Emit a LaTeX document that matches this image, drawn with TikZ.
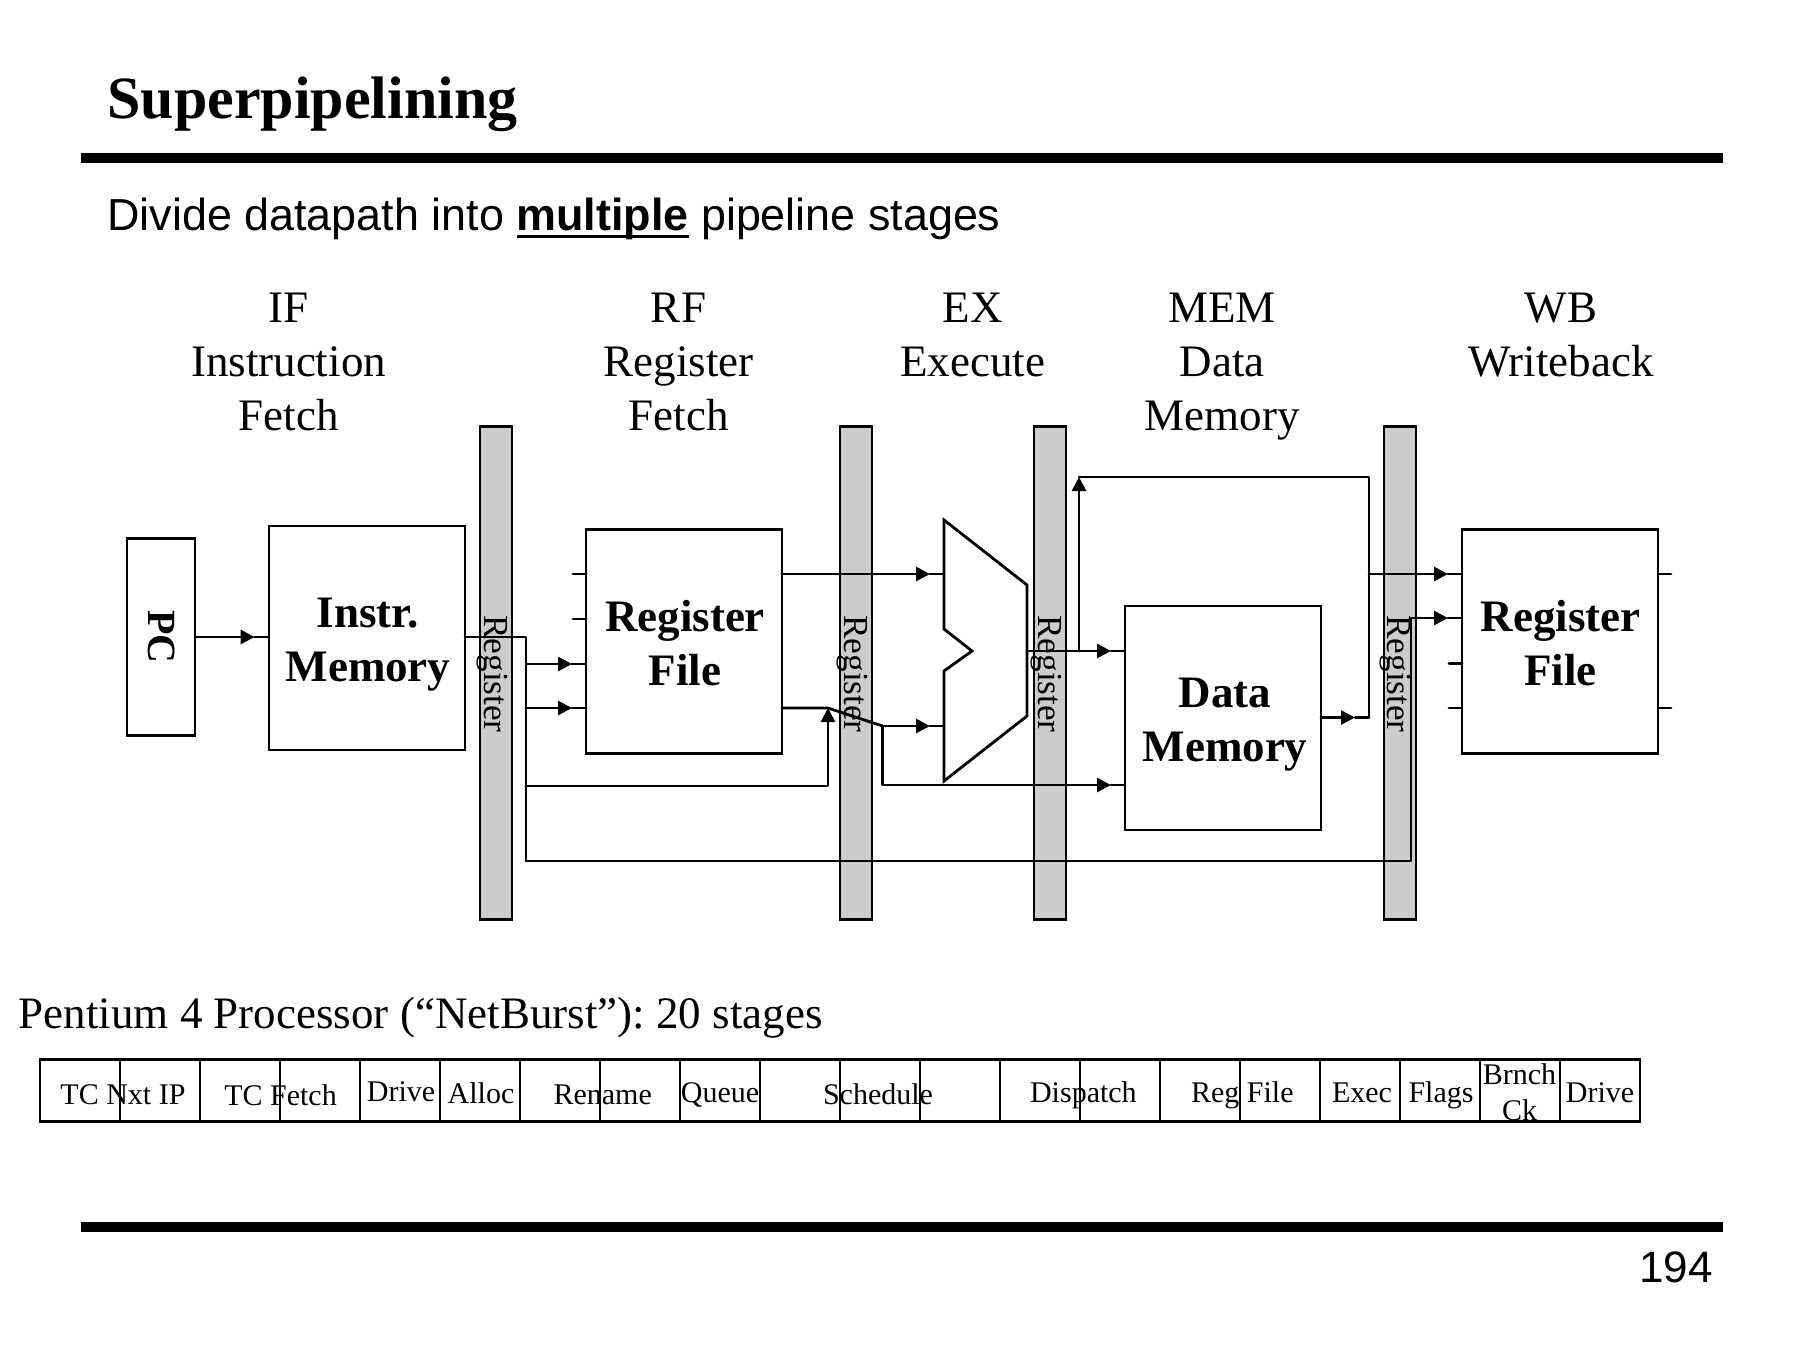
\documentclass[tikz,border=0pt]{standalone}
\usepackage{fontspec}
\setmainfont{Liberation Serif}
\newfontfamily\arialfont{Liberation Sans}
\usetikzlibrary{arrows.meta,calc}
\definecolor{barfill}{HTML}{CCCCCC}
\newcommand\heavyul[1]{\setbox0=\hbox{\bfseries #1}\copy0\kern-\wd0\rule[-4pt]{\wd0}{1.6pt}}
\frenchspacing
\tikzset{
  x=0.5pt,y=-0.5pt,
  wire/.style={line width=1.4pt,line join=round,line cap=round},
  feed/.style={wire,-{Triangle[length=7pt,width=7pt]}},
  block/.style={draw,line width=1.4pt,fill=white,inner sep=0pt,outer sep=0pt},
  bar/.style={draw,line width=1.4pt,fill=barfill,inner sep=0pt,outer sep=0pt,minimum width=16pt,minimum height=246.4pt},
  barlabel/.style={rotate=-90,anchor=base,inner sep=0pt,font=\fontsize{17.6}{18}\selectfont},
  blocklabel/.style={align=center,inner sep=0pt,font=\fontsize{22.5}{27}\selectfont\bfseries},
  stage/.style={align=center,inner sep=0pt,font=\fontsize{22.5}{27}\selectfont},
  cellbox/.style={draw,line width=1.4pt,inner sep=0pt,outer sep=0pt,minimum width=40pt,minimum height=31pt},
  celltext/.style={align=center,inner sep=0pt,font=\fontsize{15}{18}\selectfont},
  heavy/.style={line width=5pt},
}
\begin{document}
\begin{tikzpicture}
\useasboundingbox (0,0) rectangle (1800,1350);
\fill[white] (0,0) rectangle (1800,1350);
% header
\node[anchor=base west,inner sep=0pt,font=\fontsize{30}{36}\selectfont\bfseries] (title) at (107,118) {Superpipelining};
\coordinate (r1a) at (81,157.5); \coordinate (r1b) at (1723,157.5);
\draw[heavy] (r1a) -- (r1b);
\node[anchor=base west,inner sep=0pt,font=\arialfont\fontsize{22.44}{26}\selectfont] (sub) at (107,230) {Divide datapath into \heavyul{multiple} pipeline stages};
% stages
\node[stage] (s1) at (288.5,362) {IF\\Instruction\\Fetch};
\node[stage] (s2) at (678.5,362) {RF\\Register\\Fetch};
\node[stage] (s3) at (972.5,334.6) {EX\\Execute};
\node[stage] (s4) at (1222,367) {MEM\\Data\\Memory};
\node[stage] (s5) at (1561,335.4) {WB\\Writeback};
% bars
\node[bar] (b1) at (496,673.2) {};
\node[bar] (b2) at (856,673.2) {};
\node[bar] (b3) at (1050,673.2) {};
\node[bar] (b4) at (1400,673.2) {};
\node[barlabel] (b1t) at (484,674) {Register};
\node[barlabel] (b2t) at (844,674) {Register};
\node[barlabel] (b3t) at (1038,674) {Register};
\node[barlabel] (b4t) at (1387.5,674) {Register};
% blocks
\node[block,minimum width=34pt,minimum height=98.5pt] (pc) at (161,637) {};
\node[block,minimum width=98pt,minimum height=112pt] (im) at (367,638) {};
\node[block,minimum width=98pt,minimum height=112pt] (rf) at (684,641.6) {};
\node[block,minimum width=98pt,minimum height=112pt] (dm) at (1223,718) {};
\node[block,minimum width=98pt,minimum height=112pt] (wb) at (1560,641.6) {};
\node[blocklabel,rotate=-90,anchor=base,font=\fontsize{20}{24}\selectfont\bfseries] (pct) at (148,637) {PC};
\node[blocklabel] (imt) at (368,645) {Instr.\\Memory};
\node[blocklabel] (rft) at (685,643) {Register\\File};
\node[blocklabel] (dmt) at (1225,725) {Data\\Memory};
\node[blocklabel] (wbt) at (1560.5,643) {Register\\File};
% ALU
\coordinate (au1) at (944,520); \coordinate (au2) at (1027,585); \coordinate (au3) at (1027,716);
\coordinate (au4) at (944,781); \coordinate (au5) at (944,671); \coordinate (au6) at (972,651); \coordinate (au7) at (944,629);
\draw[block] (au1) -- (au2) -- (au3) -- (au4) -- (au5) -- (au6) -- (au7) -- cycle;
% junctions
\coordinate (j1) at (526,637);
\coordinate (j1a) at (526,664);
\coordinate (j1b) at (526,708);
\coordinate (j1c) at (526,786);
\coordinate (j1d) at (526,861);
\coordinate (a1) at (254.6,637);
\coordinate (a2) at (572,664);
\coordinate (a3) at (572,708);
\coordinate (j2) at (828,708);
\coordinate (j2b) at (828,786);
\coordinate (j3) at (882.5,726);
\coordinate (j3b) at (882.5,785);
\coordinate (a4) at (930,574);
\coordinate (a5) at (930,726);
\coordinate (a6) at (1111,651);
\coordinate (a7) at (1111,785);
\coordinate (j4) at (1079,651);
\coordinate (a8) at (1079,477);
\coordinate (j5) at (1369,477);
\coordinate (j6) at (1369,717.5);
\coordinate (j6b) at (1369,574);
\coordinate (a9) at (1355,717.5);
\coordinate (a10) at (1448,574);
\coordinate (a11) at (1448,618);
\coordinate (j7) at (1411,861);
\coordinate (j7b) at (1411,618);
% stubs
\coordinate (st1) at (573,574); \coordinate (st2) at (573,619);
\coordinate (st3) at (1449,663.6); \coordinate (st4) at (1449,708);
\coordinate (st5) at (1671,574); \coordinate (st6) at (1671,708);
\draw[wire] (st1) -- (st1 -| rf.west);
\draw[wire] (st2) -- (st2 -| rf.west);
\draw[wire] (st3) -- (st3 -| wb.west);
\draw[wire] (st4) -- (st4 -| wb.west);
\draw[wire] (st5) -- (st5 -| wb.east);
\draw[wire] (st6) -- (st6 -| wb.east);
% connectors
\draw[feed] (pc.east) -- (a1);
\draw[wire] (a1) -- (a1 -| im.west);
\draw[wire] (j1 -| im.east) -- (j1) -- (j1d);
\draw[feed] (j1a) -- (a2);
\draw[wire] (a2) -- (a2 -| rf.west);
\draw[feed] (j1b) -- (a3);
\draw[wire] (a3) -- (a3 -| rf.west);
\draw[feed] (j1c) -- (j2b) -- (j2);
\draw[wire] (j2 -| rf.east) -- (j2) -- (j3);
\draw[feed] (j3) -- (a5);
\draw[wire] (a5) -- (a5 -| au1);
\draw[feed] (a4 -| rf.east) -- (a4);
\draw[wire] (a4) -- (a4 -| au1);
\draw[feed] (j3) -- (j3b) -- (a7);
\draw[wire] (a7) -- (a7 -| dm.west);
\draw[feed] (au6 -| au2) -- (a6);
\draw[wire] (a6) -- (a6 -| dm.west);
\draw[feed] (j4) -- (a8);
\draw[wire] (a8) -- (j5) -- (j6);
\draw[feed] (a9 -| dm.east) -- (a9);
\draw[wire] (a9) -- (j6);
\draw[feed] (j6b) -- (a10);
\draw[wire] (a10) -- (a10 -| wb.west);
\draw[feed] (j1d) -- (j7) -- (j7b) -- (a11);
\draw[wire] (a11) -- (a11 -| wb.west);
% pentium
\node[anchor=base west,inner sep=0pt,font=\fontsize{22.5}{27}\selectfont] (p4) at (18.5,1028) {Pentium 4 Processor (“NetBurst”): 20 stages};
\foreach \i in {1,...,20} {
  \node[cellbox] (c\i) at ({40+80*(\i-0.5)},1090.6) {};
}
\node[celltext] (t1) at (123,1095) {TC Nxt IP};
\node[celltext] (t2) at (280.5,1095) {TC Fetch};
\node[celltext] (t3) at (401,1092) {Drive};
\node[celltext] (t4) at (481,1093) {Alloc};
\node[celltext] (t5) at (602.7,1095) {Rename};
\node[celltext] (t6) at (720,1094.5) {Queue};
\node[celltext] (t7) at (878,1094.5) {Schedule};
\node[celltext] (t8) at (1083.4,1095) {Dispatch};
\node[celltext] (t9) at (1242.3,1095) {Reg File};
\node[celltext] (t10) at (1362,1092.5) {Exec};
\node[celltext] (t11) at (1441,1095) {Flags};
\node[celltext] (t12) at (1519.5,1092) {Brnch\\Ck};
\node[celltext] (t13) at (1600,1092.5) {Drive};
% footer
\coordinate (r2a) at (81,1226.5); \coordinate (r2b) at (1723,1226.5);
\draw[heavy] (r2a) -- (r2b);
\node[anchor=base east,inner sep=0pt,font=\arialfont\fontsize{22}{26}\selectfont] (pg) at (1713,1282.5) {194};
\end{tikzpicture}
\end{document}
